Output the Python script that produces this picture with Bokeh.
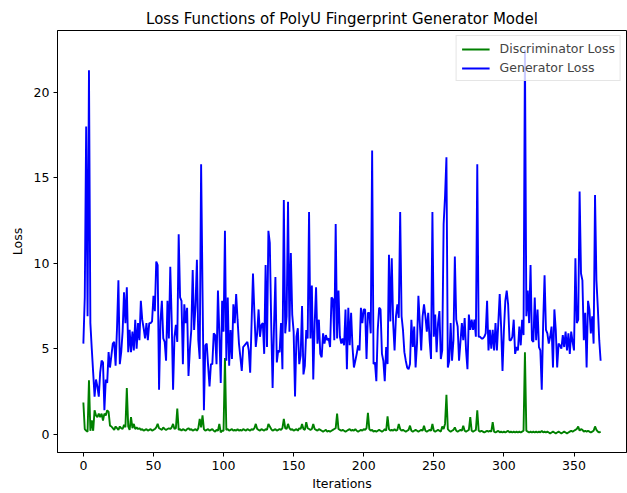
from bokeh.plotting import figure
from bokeh.models import Range1d, FixedTicker, Legend, LegendItem, ColumnDataSource
from bokeh.embed import file_html
from bokeh.resources import INLINE

# ---------------- data ----------------
generator_loss = [
    5.3, 8.0, 18.0, 6.9, 21.3, 6.5, 5.0, 3.6, 2.2, 3.2,
    2.8, 2.2, 3.6, 4.3, 4.2, 1.4, 3.2, 3.0, 4.8, 3.9,
    4.6, 5.3, 5.4, 4.0, 6.2, 9.0, 4.1, 4.8, 6.0, 8.3,
    6.5, 8.6, 4.8, 6.1, 4.8, 6.0, 4.9, 6.7, 5.0, 6.5,
    5.5, 7.8, 6.7, 6.2, 5.6, 6.5, 5.5, 6.5, 6.5, 6.6,
    8.1, 7.2, 10.1, 9.9, 2.6, 6.6, 7.8, 5.6, 5.4, 4.3,
    7.8, 5.6, 9.8, 6.7, 2.6, 5.7, 6.4, 5.4, 11.7, 8.0,
    7.8, 4.1, 7.6, 6.5, 7.4, 3.4, 5.0, 6.1, 9.6, 6.1,
    7.5, 10.2, 5.5, 4.4, 15.8, 8.4, 1.4, 5.2, 5.3, 4.0,
    2.8, 4.1, 4.1, 5.9, 5.8, 4.1, 8.4, 5.9, 3.0, 7.8,
    6.0, 11.9, 4.3, 8.0, 4.0, 6.1, 4.4, 7.6, 6.5, 8.2,
    6.7, 5.3, 4.5, 3.7, 5.1, 5.2, 5.3, 5.4, 4.9, 3.6,
    6.5, 9.4, 7.1, 5.1, 5.9, 7.3, 5.7, 6.4, 6.5, 4.7,
    9.9, 5.1, 11.9, 11.2, 6.5, 2.7, 6.3, 9.2, 4.2, 4.9,
    4.8, 6.5, 3.8, 13.7, 5.9, 6.9, 13.6, 6.0, 10.6, 7.0,
    6.0, 2.2, 5.7, 6.2, 4.1, 4.6, 7.5, 3.5, 4.0, 6.1,
    5.6, 13.0, 5.6, 8.7, 3.2, 6.5, 8.6, 5.3, 6.7, 4.7,
    4.5, 5.9, 5.3, 5.8, 5.5, 5.6, 5.1, 8.0, 7.9, 5.5,
    12.3, 5.6, 8.4, 5.7, 5.3, 5.6, 5.2, 7.3, 3.8, 7.4,
    5.2, 7.1, 5.1, 3.9, 4.3, 4.7, 5.2, 4.9, 7.4, 6.5,
    7.3, 7.3, 4.4, 7.1, 7.1, 5.9, 16.6, 4.1, 4.2, 3.1,
    6.1, 7.4, 7.3, 4.7, 4.3, 3.1, 5.1, 4.1, 10.5, 6.6,
    10.3, 6.5, 4.9, 6.9, 7.6, 6.8, 13.0, 6.9, 6.1, 4.8,
    4.3, 3.9, 3.8, 4.1, 6.7, 5.1, 6.3, 3.9, 5.3, 8.1,
    6.5, 4.9, 6.9, 7.6, 6.9, 6.0, 7.1, 5.5, 4.4, 13.0,
    5.7, 7.0, 4.8, 6.5, 7.2, 4.4, 4.9, 12.3, 13.9, 16.2,
    3.9, 4.3, 6.5, 4.3, 5.5, 10.4, 6.7, 6.3, 4.3, 5.4,
    6.5, 5.5, 6.8, 4.9, 3.8, 7.0, 6.1, 6.7, 6.1, 6.7,
    5.7, 15.8, 5.7, 5.7, 5.6, 5.6, 5.7, 5.9, 7.8, 4.9,
    6.1, 5.0, 6.1, 4.9, 6.5, 4.9, 6.5, 8.2, 6.3, 3.7,
    6.1, 7.8, 8.4, 7.6, 5.5, 5.5, 5.7, 6.7, 4.7, 5.1,
    4.9, 6.3, 5.2, 6.7, 5.8, 22.5, 6.9, 8.4, 6.5, 9.9,
    5.5, 5.4, 8.0, 5.5, 7.3, 5.1, 4.9, 2.6, 6.5, 9.3,
    6.1, 5.9, 5.3, 5.7, 6.3, 3.9, 7.3, 6.1, 3.9, 5.3,
    5.2, 5.0, 5.8, 5.1, 6.0, 4.9, 5.9, 4.7, 6.0, 5.4,
    4.9, 10.3, 6.5, 6.7, 14.2, 9.4, 9.0, 5.5, 7.1, 3.9,
    7.8, 7.3, 5.9, 6.9, 5.3, 14.0, 9.0, 7.4, 5.5, 4.3,
]

discriminator_loss = [
    1.85, 0.3, 0.2, 0.15, 3.15, 0.2, 0.8, 0.2, 1.4, 1.1,
    1.0, 1.2, 1.0, 1.2, 0.8, 1.2, 1.1, 1.4, 1.3, 0.5,
    0.45, 0.35, 0.25, 0.45, 0.35, 0.25, 0.45, 0.35, 0.3, 0.55,
    0.4, 2.7, 0.45, 0.25, 1.0, 0.35, 0.6, 0.3, 0.4, 0.3,
    0.35, 0.25, 0.3, 0.2, 0.25, 0.3, 0.2, 0.25, 0.3, 0.2,
    0.25, 0.3, 0.4, 0.6, 0.35, 0.3, 0.25, 0.4, 0.3, 0.25,
    0.3, 0.35, 0.3, 0.4, 0.6, 0.3, 0.35, 1.5, 0.25, 0.3,
    0.2, 0.3, 0.25, 0.2, 0.3, 0.35, 0.25, 0.3, 0.2, 0.25,
    0.3, 0.2, 0.35, 0.9, 0.4, 1.1, 0.3, 0.2, 0.25, 0.3,
    0.2, 0.25, 0.3, 0.2, 0.15, 0.25, 0.2, 0.6, 0.1, 0.2,
    0.2, 4.45, 0.25, 0.3, 0.2, 0.25, 0.3, 0.2, 0.25, 0.2,
    0.3, 0.2, 0.25, 0.2, 0.3, 0.25, 0.2, 0.3, 0.25, 0.2,
    0.3, 0.25, 0.35, 0.6, 0.3, 0.25, 0.2, 0.3, 0.25, 0.2,
    0.3, 0.25, 0.6, 0.45, 0.3, 0.2, 0.25, 0.3, 0.2, 0.25,
    0.3, 0.25, 0.35, 0.9, 0.35, 0.3, 0.6, 0.35, 0.25, 0.3,
    0.2, 0.25, 0.3, 0.2, 0.35, 0.3, 0.6, 0.3, 0.25, 0.7,
    0.35, 0.3, 0.25, 0.3, 0.6, 0.3, 0.25, 0.2, 0.3, 0.25,
    0.2, 0.15, 0.2, 0.25, 0.15, 0.2, 0.15, 0.2, 0.25, 0.3,
    0.35, 1.2, 0.3, 0.25, 0.2, 0.25, 0.2, 0.15, 0.2, 0.25,
    0.3, 0.2, 0.25, 0.2, 0.3, 0.2, 0.15, 0.2, 0.25, 0.2,
    0.3, 0.25, 0.35, 1.25, 0.3, 0.2, 0.25, 0.15, 0.2, 0.15,
    0.2, 0.25, 0.2, 0.15, 0.2, 0.3, 0.2, 1.05, 0.3, 0.2,
    0.25, 0.2, 0.3, 0.2, 0.25, 0.6, 0.3, 0.2, 0.25, 0.2,
    0.15, 0.2, 0.25, 0.5, 0.2, 0.15, 0.2, 0.25, 0.2, 0.15,
    0.2, 0.25, 0.2, 0.5, 0.2, 0.15, 0.2, 0.25, 0.2, 0.6,
    0.2, 0.15, 0.2, 0.25, 0.2, 0.15, 0.45, 0.3, 0.6, 2.3,
    0.3, 0.2, 0.15, 0.2, 0.25, 0.4, 0.2, 0.15, 0.2, 0.25,
    0.2, 0.5, 0.2, 0.15, 0.2, 0.25, 1.0, 0.2, 0.15, 0.2,
    0.25, 1.4, 0.2, 0.15, 0.2, 0.15, 0.1, 0.15, 0.2, 0.15,
    0.2, 0.15, 0.7, 0.15, 0.1, 0.15, 0.2, 0.1, 0.15, 0.1,
    0.15, 0.1, 0.15, 0.2, 0.1, 0.15, 0.1, 0.15, 0.1, 0.15,
    0.1, 0.15, 0.1, 0.15, 0.2, 4.8, 0.2, 0.15, 0.1, 0.15,
    0.1, 0.15, 0.1, 0.15, 0.1, 0.15, 0.1, 0.2, 0.1, 0.15,
    0.1, 0.15, 0.1, 0.05, 0.1, 0.15, 0.1, 0.05, 0.1, 0.15,
    0.1, 0.05, 0.1, 0.15, 0.1, 0.05, 0.1, 0.15, 0.2, 0.15,
    0.2, 0.25, 0.3, 0.45, 0.2, 0.3, 0.25, 0.15, 0.2, 0.15,
    0.2, 0.15, 0.1, 0.15, 0.2, 0.45, 0.25, 0.15, 0.1, 0.15,
]

iterations = list(range(len(generator_loss)))
x_ticks = [0, 50, 100, 150, 200, 250, 300, 350]
y_ticks = [0, 5, 10, 15, 20]

title_text = "Loss Functions of PolyU Fingerprint Generator Model"
x_label = "Iterations"
y_label = "Loss"
disc_label = "Discriminator Loss"
gen_label = "Generator Loss"

# ---------------- figure ----------------
FONT = "DejaVu Sans"
n = len(iterations)
xpad = 0.05 * (n - 1)
ymin = min(discriminator_loss)
ymax = max(generator_loss)
ypad = 0.05 * (ymax - ymin)

p = figure(
    width=627, height=493,
    output_backend="svg", toolbar_location=None,
    x_range=Range1d(-xpad, (n - 1) + xpad),
    y_range=Range1d(ymin - ypad, ymax + ypad),
    min_border_left=57, min_border_right=1,
    min_border_top=30, min_border_bottom=40,
)

p.title.text = title_text
p.title.align = "center"
p.title.text_font = FONT
p.title.text_font_size = "15px"
p.title.text_font_style = "normal"
p.title.text_color = "black"
p.title.standoff = 5
p.title.offset = 0

p.xgrid.visible = False
p.ygrid.visible = False
p.outline_line_color = "black"
p.outline_line_width = 1
p.background_fill_color = "white"
p.border_fill_color = "white"

for ax in (p.xaxis[0], p.yaxis[0]):
    ax.axis_line_color = "black"
    ax.major_tick_line_color = "black"
    ax.major_tick_out = 4
    ax.major_tick_in = 0
    ax.minor_tick_line_color = None
    ax.major_label_text_font = FONT
    ax.major_label_text_color = "black"
    ax.major_label_text_font_size = "12.5px"
    ax.axis_label_text_font = FONT
    ax.axis_label_text_font_size = "12.5px"
    ax.axis_label_text_font_style = "normal"
    ax.axis_label_text_color = "black"
    ax.major_label_standoff = 4

p.yaxis.axis_label_standoff = 6
p.xaxis.axis_label_standoff = 3

p.xaxis.ticker = FixedTicker(ticks=x_ticks)
p.yaxis.ticker = FixedTicker(ticks=y_ticks)
p.xaxis.axis_label = x_label
p.yaxis.axis_label = y_label

src = ColumnDataSource(dict(x=iterations, d=discriminator_loss, g=generator_loss))
r_d = p.line("x", "d", source=src, line_color="#008000", line_width=1.9)
r_g = p.line("x", "g", source=src, line_color="#0000ff", line_width=1.9)

legend = Legend(
    items=[LegendItem(label=disc_label, renderers=[r_d]),
           LegendItem(label=gen_label, renderers=[r_g])],
    location="top_right",
    label_text_font=FONT, label_text_font_size="12.5px",
    border_line_color="#cccccc", border_line_width=1,
    background_fill_color="white", background_fill_alpha=0.8,
    glyph_width=28, glyph_height=14, label_height=14,
    label_standoff=10, spacing=4, padding=5, margin=5,
)
p.add_layout(legend)

open("out.html", "w").write(file_html(p, INLINE))
